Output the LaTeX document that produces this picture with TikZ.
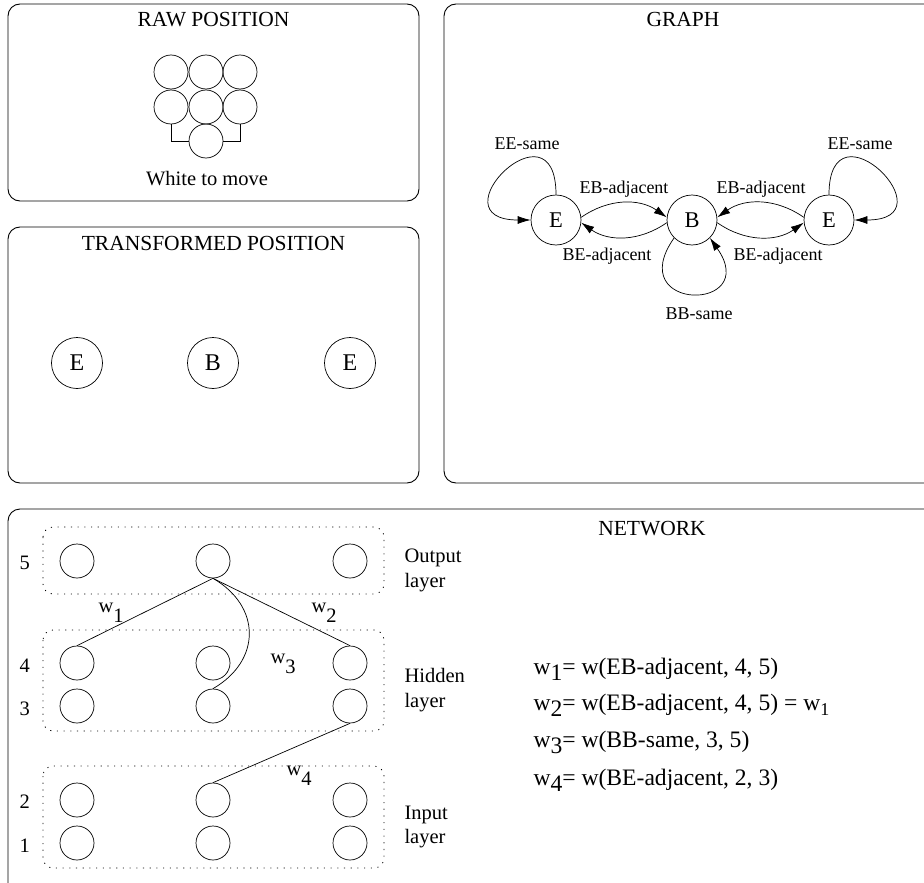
\documentclass[tikz,border=0pt]{standalone}
\usepackage{fontspec}
\setmainfont{Liberation Serif}
\usetikzlibrary{arrows.meta}
\newcommand\wlow[2]{w\raisebox{-#2}{#1}}
\begin{document}
\begin{tikzpicture}[x=1pt,y=1pt,
  panel/.style={draw, rounded corners=12pt, line width=0.9pt},
  title/.style={anchor=base, font=\fontsize{21.5}{24}\selectfont},
  txt/.style={anchor=base west, font=\fontsize{20.5}{24}\selectfont},
  eqn/.style={anchor=base west, font=\fontsize{23.6}{26}\selectfont},
  glabel/.style={anchor=base, font=\fontsize{18}{20}\selectfont},
  gnode/.style={circle, draw, line width=0.7pt, minimum size=50pt, inner sep=0pt, font=\fontsize{22.5}{24}\selectfont},
  tnode/.style={circle, draw, line width=0.7pt, minimum size=51pt, inner sep=0pt, font=\fontsize{24}{26}\selectfont},
  stone/.style={circle, draw, line width=0.7pt, minimum size=34pt, inner sep=0pt},
  neuron/.style={circle, draw, line width=0.7pt, minimum size=34pt, inner sep=0pt},
  layerbox/.style={draw, line width=0.8pt, dash pattern=on 1.1pt off 5.6pt, rounded corners=10pt},
  link/.style={line width=0.7pt},
  arr/.style={line width=0.7pt, -{Latex[length=13pt,width=8pt]}},
]
\useasboundingbox (0,0) rectangle (924,-883);
% panels
\draw[panel] (8,-4) rectangle (419,-201);
\draw[panel] (8,-227) rectangle (419,-483);
\draw[panel] (444,-4) rectangle (950,-483);
\draw[panel] (8,-509) rectangle (950,-910);

% ---- raw position
\node[title] (t1) at (213.5,-27) {RAW POSITION};
\node[stone] (r11) at (171,-72) {};
\node[stone] (r12) at (206,-72) {};
\node[stone] (r13) at (240,-72) {};
\node[stone] (r21) at (171,-107) {};
\node[stone] (r22) at (206,-107) {};
\node[stone] (r23) at (240,-107) {};
\node[stone] (r31) at (206,-141) {};
\draw[link] (r21.south) |- (r31.west);
\draw[link] (r23.south) |- (r31.east);
\node[anchor=base, font=\fontsize{20.5}{24}\selectfont] (wtm) at (207,-185) {White to move};

% ---- transformed position
\node[title] (t2) at (213.5,-250) {TRANSFORMED POSITION};
\node[tnode] (te1) at (77,-363) {E};
\node[tnode] (tb) at (213,-363) {B};
\node[tnode] (te2) at (350,-363) {E};

% ---- graph
\node[title] (t3) at (683,-27) {GRAPH};
\node[gnode] (E1) at (556,-220) {E};
\node[gnode] (B) at (692,-220) {B};
\node[gnode] (E2) at (829,-220) {E};
\draw[arr] (E1.6) to[out=35,in=145] (B.174);
\draw[arr] (B.186) to[out=215,in=-35] (E1.-6);
\draw[arr] (E2.174) to[out=145,in=35] (B.6);
\draw[arr] (B.-6) to[out=-35,in=-145] (E2.186);
\draw[arr] (E1.north) to[out=90,in=180,looseness=7] (E1.west);
\draw[arr] (E2.north) to[out=90,in=0,looseness=7] (E2.east);
\draw[arr] (B.-135) to[out=-125,in=-55,looseness=6.5] (B.-45);
\node[glabel] (l1) at (624,-193) {EB-adjacent};
\node[glabel] (l2) at (607,-260) {BE-adjacent};
\node[glabel] (l3) at (761,-193) {EB-adjacent};
\node[glabel] (l4) at (778,-260) {BE-adjacent};
\node[glabel] (l5) at (527,-149) {EE-same};
\node[glabel] (l6) at (860,-149) {EE-same};
\node[glabel] (l7) at (699,-319) {BB-same};

% ---- network
\node[title] (t4) at (652,-535) {NETWORK};
\draw[layerbox] (43,-527) rectangle (384,-594);
\draw[layerbox] (43,-630) rectangle (384,-731);
\draw[layerbox] (43,-766) rectangle (384,-868);
\foreach \r/\y in {5/561,4/663,3/706,2/800,1/843}{
  \node[neuron] (n\r a) at (77,-\y) {};
  \node[neuron] (n\r b) at (213,-\y) {};
  \node[neuron] (n\r c) at (350,-\y) {};
}
\node[txt] (k5) at (16,-569) {5};
\node[txt] (k4) at (16,-672) {4};
\node[txt] (k3) at (16,-715) {3};
\node[txt] (k2) at (16,-808) {2};
\node[txt] (k1) at (16,-852) {1};
\node[txt] (lo1) at (401,-562) {Output};
\node[txt] (lo2) at (401,-587) {layer};
\node[txt] (lh1) at (401,-682) {Hidden};
\node[txt] (lh2) at (401,-707) {layer};
\node[txt] (li1) at (401,-819) {Input};
\node[txt] (li2) at (401,-843) {layer};
\draw[link] (n5b.south) -- (n4a.north);
\draw[link] (n5b.south) -- (n4c.north);
\draw[link] (n5b.south) to[out=-30,in=30,looseness=1.3] (n3b.north);
\draw[link] (n3c.south) -- (n2b.north);
\node[txt] (w1) at (95,-612) {\wlow{1}{10pt}};
\node[txt] (w2) at (308,-612) {\wlow{2}{10pt}};
\node[txt] (w3) at (267,-663) {\wlow{3}{10pt}};
\node[txt] (w4) at (283,-775) {\wlow{4}{10pt}};
\node[eqn] (e1) at (530,-674) {\wlow{1}{6pt}= w(EB-adjacent, 4, 5)};
\node[eqn] (e2) at (530,-710) {\wlow{2}{6pt}= w(EB-adjacent, 4, 5) = \wlow{\fontsize{18}{20}\selectfont 1}{5pt}};
\node[eqn] (e3) at (530,-747) {\wlow{3}{6pt}= w(BB-same, 3, 5)};
\node[eqn] (e4) at (530,-785) {\wlow{4}{6pt}= w(BE-adjacent, 2, 3)};
\end{tikzpicture}
\end{document}
